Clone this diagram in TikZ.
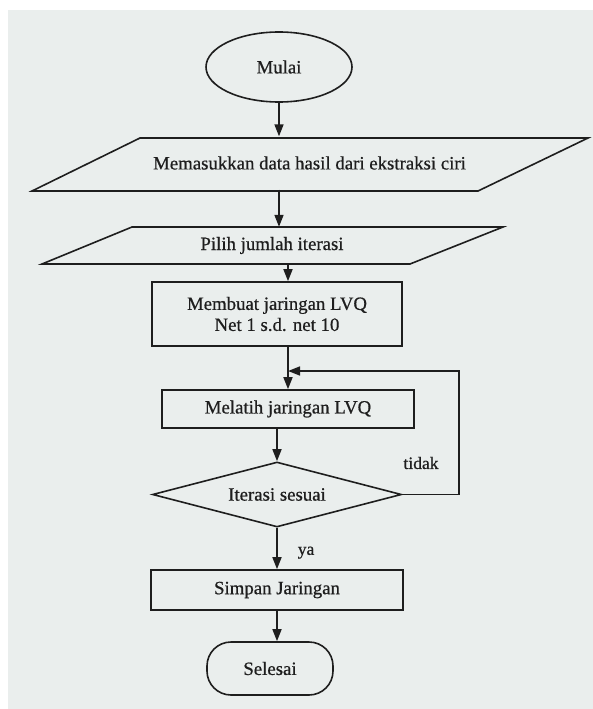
\documentclass[tikz,border=0pt]{standalone}
\usepackage{fontspec}
\setmainfont[FakeBold=0.6]{Liberation Serif}
\usetikzlibrary{shapes.geometric,arrows.meta}
\definecolor{paper}{RGB}{234,238,237}
\definecolor{ink}{RGB}{30,30,30}
\begin{document}
\begin{tikzpicture}[x=1bp,y=-1bp,
  every node/.style={font=\fontsize{18.8bp}{21bp}\selectfont, text=ink, inner sep=0pt},
  outline/.style={draw=ink, line width=1.6bp},
  procbox/.style={outline, rectangle},
  arr/.style={draw=ink, line width=1.6bp, -{Triangle[length=12bp,width=9bp]}},
  lbl/.style={font=\fontsize{17.5bp}{20bp}\selectfont}]
\useasboundingbox (0,0) rectangle (593,709);
\fill[white] (0,0) rectangle (593,709);
\fill[paper] (8,10) rectangle (593,709);

% start
\node[outline, ellipse, minimum width=146bp, minimum height=70bp] (mulai) at (279,67) {Mulai};

% input 1
\draw[outline] (140,138) -- (588,138) -- (478,191) -- (32,191) -- cycle;
\node[minimum height=53bp] (p1) at (309.5,163) {Memasukkan data hasil dari ekstraksi ciri};

% input 2
\draw[outline] (132,227) -- (503,227) -- (410,264) -- (42,264) -- cycle;
\node[minimum height=37bp] (p2) at (272,245.5) {Pilih jumlah iterasi};

% processes
\node[procbox, minimum width=250bp, minimum height=64bp, align=center] (membuat) at (277,314)
  {Membuat jaringan LVQ\\Net 1 s.d. net 10};
\node[procbox, minimum width=252bp, minimum height=38bp] (melatih) at (288,409) {Melatih jaringan LVQ};
\node[outline, diamond, aspect=3.8, minimum width=249bp, minimum height=65bp] (decide) at (277,494.5) {Iterasi sesuai};
\node[procbox, minimum width=252bp, minimum height=40bp] (simpan) at (277,590) {Simpan Jaringan};
\node[outline, rectangle, rounded corners=24bp, minimum width=126bp, minimum height=53bp] (selesai) at (270,668.5) {Selesai};

% connectors
\draw[arr] (mulai.south) -- (p1.north -| mulai.south);
\draw[arr] (p1.south -| mulai.south) -- (p2.north -| mulai.south);
\draw[arr] (p2.south -| melatih.north) -- (membuat.north -| melatih.north);
\draw[arr] (membuat.south -| melatih.north) -- (melatih.north);
\draw[arr] (melatih.south -| decide.north) -- (decide.north);
\draw[arr] (decide.south) -- (simpan.north -| decide.south) node[lbl, pos=0.6, right=20bp] (ya) {ya};
\draw[arr] (simpan.south -| decide.south) -- (selesai.north -| decide.south);

\coordinate (loopc) at (459,371);
\draw[arr] (decide.east) -| (loopc) -- (loopc -| melatih.north);
\node[lbl] (tidak) at (421,463) {tidak};
\end{tikzpicture}
\end{document}
